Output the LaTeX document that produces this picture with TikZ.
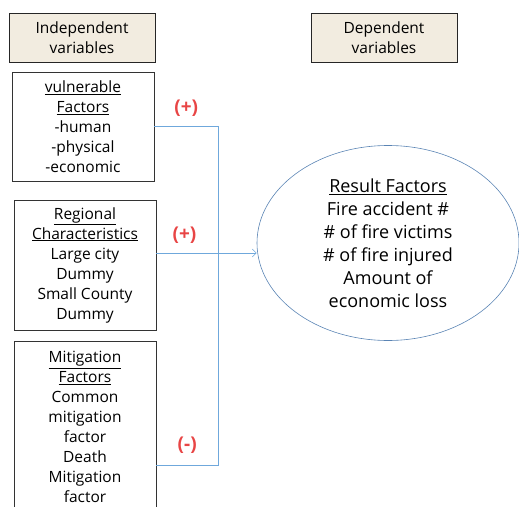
\documentclass[tikz,border=0pt]{standalone}
\usepackage{fontspec}
\setmainfont{Open Sans}
\usetikzlibrary{arrows.meta,positioning,shapes.geometric}
\definecolor{beige}{HTML}{F2ECE0}
\definecolor{lienbleu}{HTML}{6FA8DC}
\definecolor{bordbleu}{HTML}{5A84B4}
\definecolor{rouge}{HTML}{E84545}
\begin{document}
\begin{tikzpicture}[x=1pt,y=-1pt,
  entete/.style={draw=black!85,line width=0.8pt,fill=beige,minimum width=146pt,minimum height=49pt,font=\fontsize{15.5}{20}\selectfont,align=center,inner sep=0pt},
  facteur/.style={draw=black!80,line width=0.8pt,minimum width=142pt,font=\fontsize{15.5}{20}\selectfont,align=center,inner sep=0pt},
  resultat/.style={ellipse,draw=bordbleu,line width=0.6pt,minimum width=262pt,minimum height=195pt,font=\fontsize{18}{23}\selectfont,align=center,inner sep=0pt},
  signe/.style={font=\fontsize{19}{19}\selectfont\bfseries,text=rouge},
  lien/.style={draw=lienbleu,line width=0.6pt}]
  \useasboundingbox (0,0) rectangle (519,506);
  \clip (0,0) rectangle (519,506);
  % en-tetes
  \node[entete] (indep) at (82,37.5) {Independent\\variables};
  \node[entete] (dep) at (384,37.5) {Dependent\\variables};
  % facteurs
  \node[facteur,minimum height=109pt] (vuln) at (83,126.5) {\underline{vulnerable}\\\underline{Factors}\\-human\\-physical\\-economic};
  \node[facteur,minimum height=130pt] (region) at (85,265) {\underline{Regional}\\\underline{Characteristics}\\Large city\\Dummy\\Small County\\Dummy};
  \node[facteur,minimum height=172pt] (mitig) at (85,427) {\underline{Mitigation}\\\underline{Factors}\\Common\\mitigation\\factor\\Death\\Mitigation\\factor};
  \node[resultat] (res) at (388,243) {\underline{Result Factors}\\Fire accident \#\\\# of fire victims\\\# of fire injured\\Amount of\\economic loss};
  % liens
  \coordinate (rail) at (218,300);
  \coordinate (mitigpt) at ([yshift=-38pt]mitig.east);
  \coordinate (regionpt) at ([yshift=12pt]region.east);
  \draw[lien] (vuln.east) -- node[signe,above=6pt] {(+)} (vuln.east -| rail) -- (mitigpt -| rail) -- node[signe,above=8pt] {(-)} (mitigpt);
  \draw[lien,-{Straight Barb[length=4pt,width=8pt]}] (regionpt) -- node[signe,pos=0.28,above=6pt] {(+)} (regionpt -| res.west);
\end{tikzpicture}
\end{document}
